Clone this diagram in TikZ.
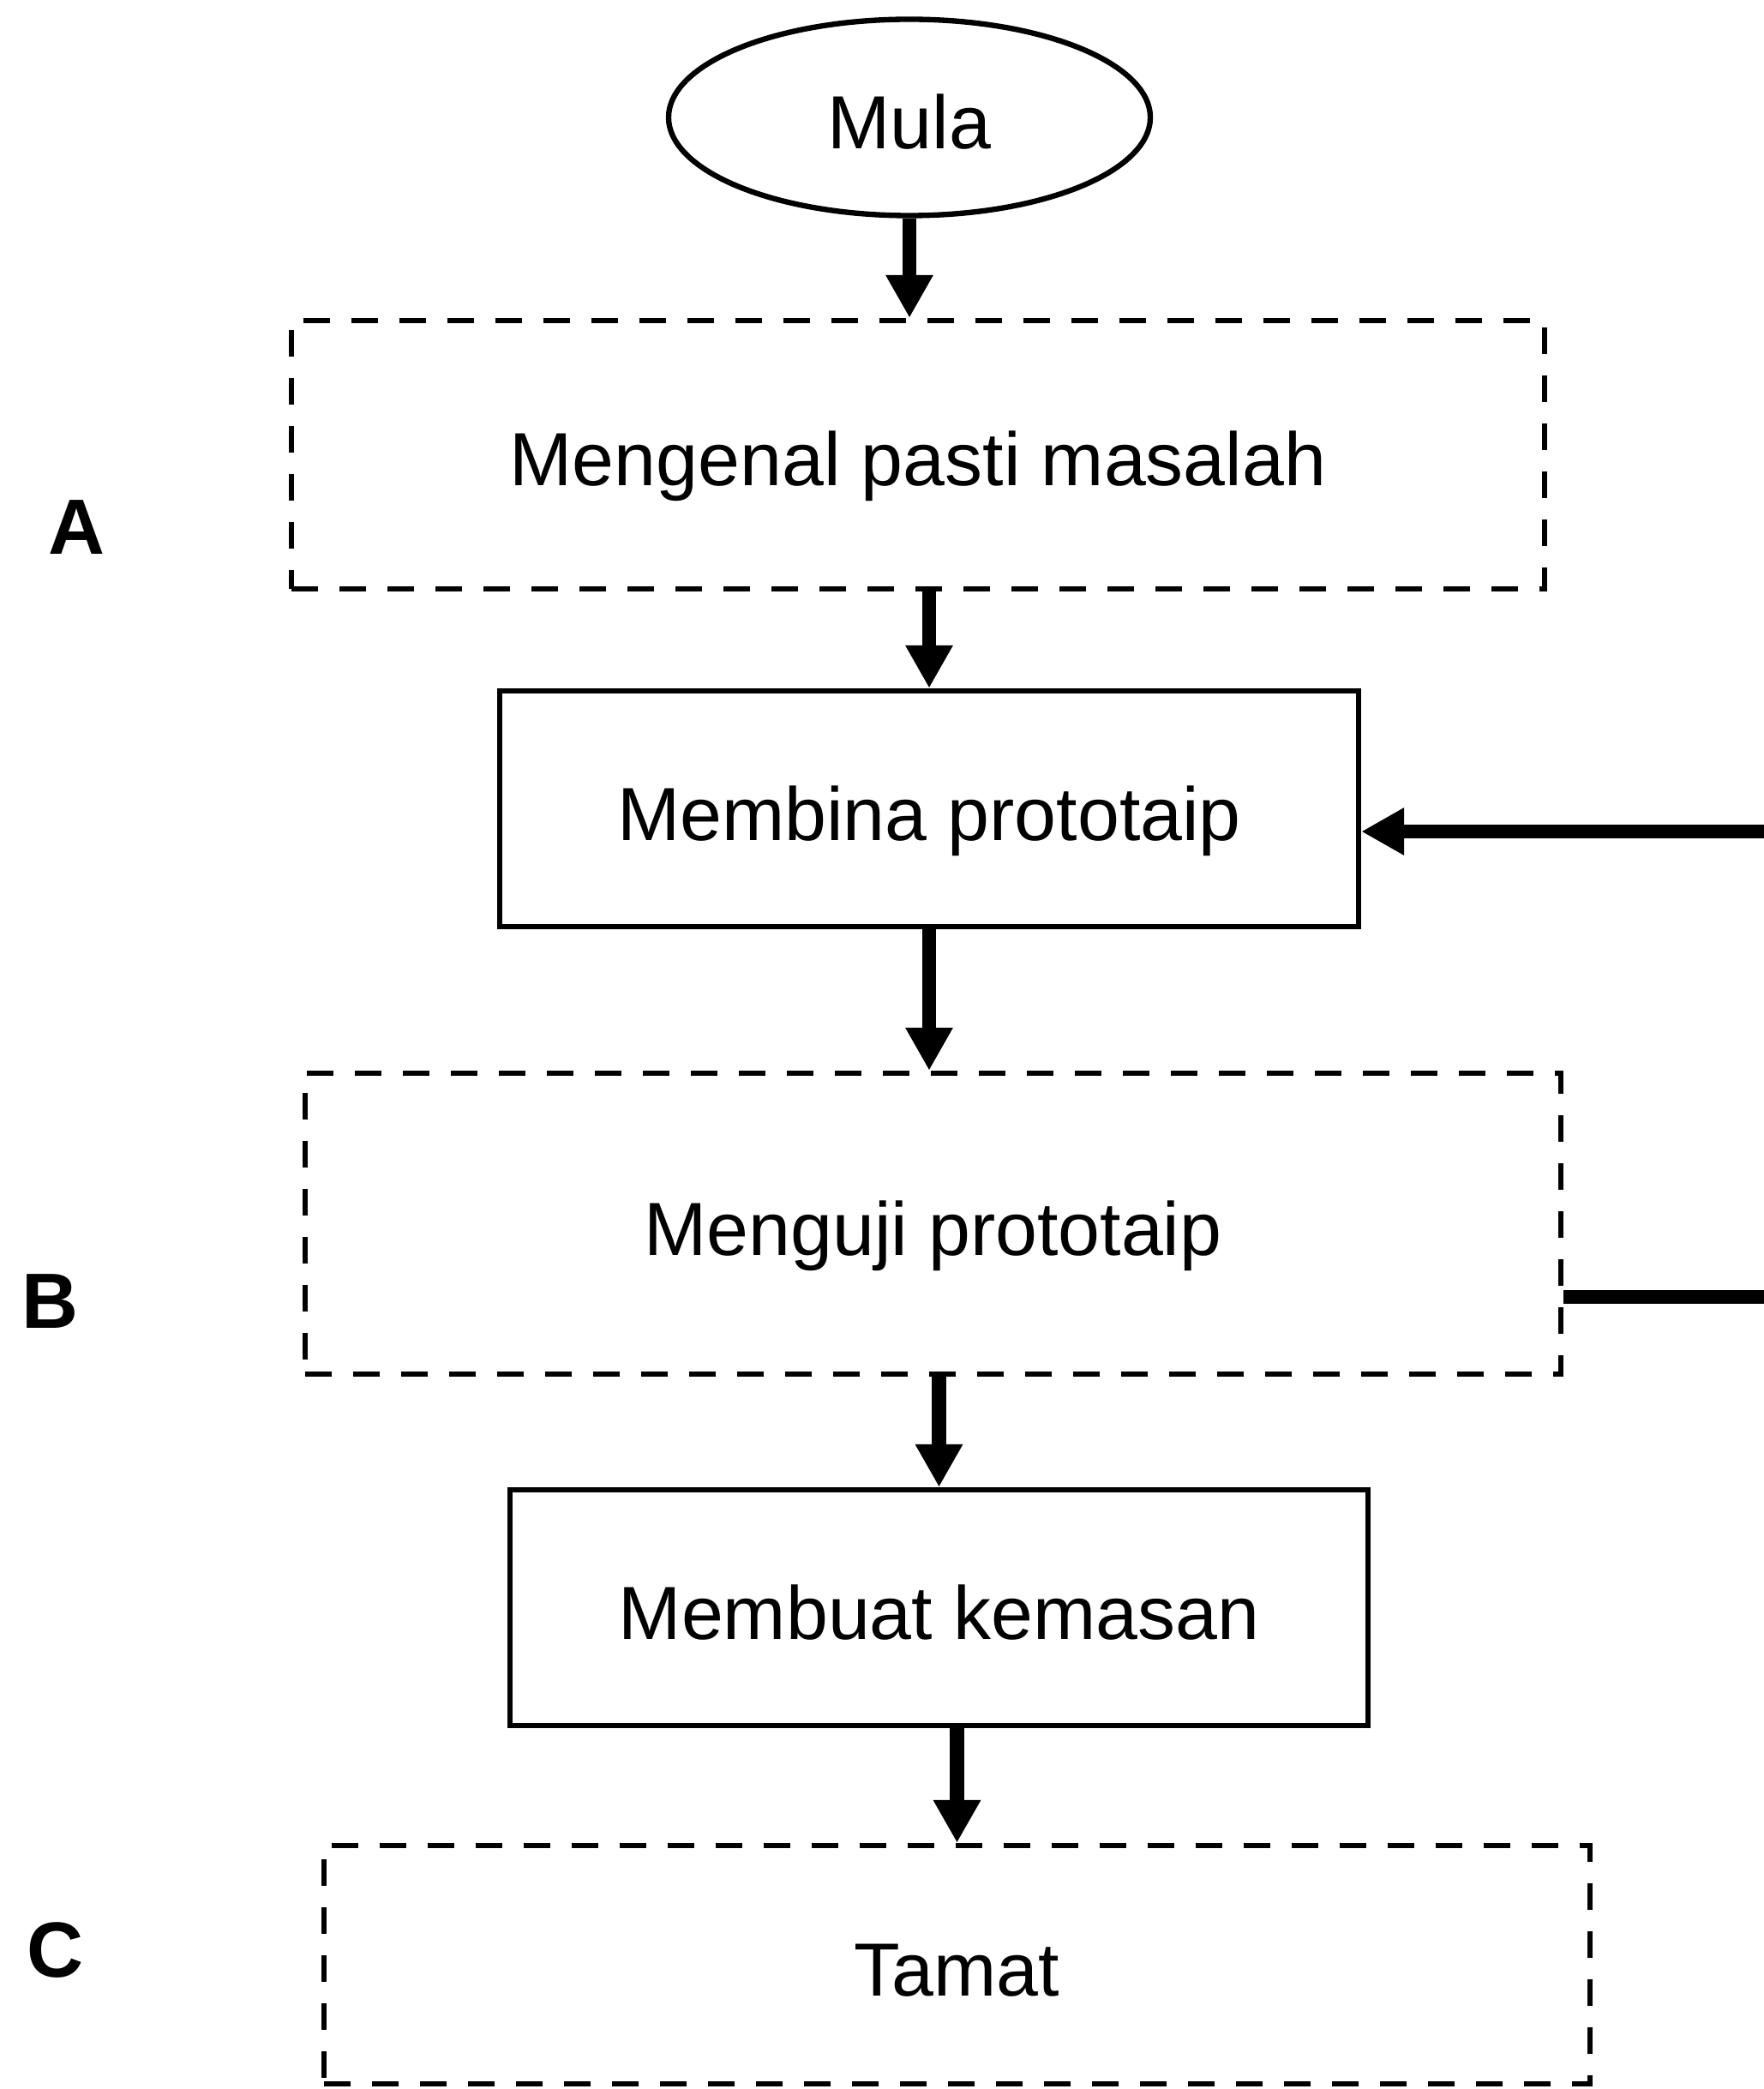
\documentclass[tikz,border=0pt]{standalone}
\usepackage{fontspec}
\setmainfont{Liberation Sans}
\usepackage{tikz}
\usetikzlibrary{shapes.geometric,arrows.meta}
\tikzstyle{kotak}=[rectangle,draw,line width=1.8pt,fill=white,text=black,font=\fontsize{25}{30}\selectfont,inner sep=0pt,text height=0.73cm,text depth=0pt]
\tikzstyle{kotakputus}=[kotak,dash pattern=on 3.1mm off 2.5mm]
\tikzstyle{bujur}=[ellipse,draw,line width=1.8pt,font=\fontsize{25}{30}\selectfont,inner sep=0pt,text height=0.73cm,text depth=0pt]
\tikzstyle{huruf}=[font=\fontsize{26}{30}\selectfont\bfseries]
\tikzstyle{aliran}=[-{Triangle[length=5mm,width=5.2mm]},line width=4.6pt]

\begin{document}
\begin{tikzpicture}
  \useasboundingbox (0,0) rectangle (20.57,-24.37);

  \node[bujur,minimum width=5.62cm,minimum height=2.29cm] (mula) at (10.61,-1.37) {Mula};
  \node[kotakputus,minimum width=14.62cm,minimum height=3.13cm] (masalah) at (10.71,-5.305) {Mengenal pasti masalah};
  \node[kotak,minimum width=10.02cm,minimum height=2.75cm] (bina) at (10.84,-9.435) {Membina prototaip};
  \node[kotakputus,minimum width=14.65cm,minimum height=3.51cm] (uji) at (10.885,-14.275) {Menguji prototaip};
  \node[kotak,minimum width=10.01cm,minimum height=2.75cm] (kemas) at (10.955,-18.755) {Membuat kemasan};
  \node[kotakputus,minimum width=14.77cm,minimum height=2.78cm] (tamat) at (11.165,-22.92) {Tamat};

  \node[huruf] (A) at (0.89,-6.15) {A};
  \node[huruf] (B) at (0.58,-15.18) {B};
  \node[huruf] (C) at (0.64,-22.75) {C};

  \draw[aliran] (mula.south)--(mula.south |- masalah.north);
  \draw[aliran] (bina.north |- masalah.south)--(bina.north);
  \draw[aliran] (bina.south)--(bina.south |- uji.north);
  \draw[aliran] (kemas.north |- uji.south)--(kemas.north);
  \draw[aliran] (tamat.north |- kemas.south)--(tamat.north);
  % garis balik ke kanan
  \coordinate (kanan1) at (20.7,-9.70);
  \coordinate (kanan2) at (20.7,-15.13);
  \draw[aliran] (kanan1)--(kanan1 -| bina.east);
  \draw[line width=4.6pt] (uji.east |- kanan2)--(kanan2);

\end{tikzpicture}
\end{document}
